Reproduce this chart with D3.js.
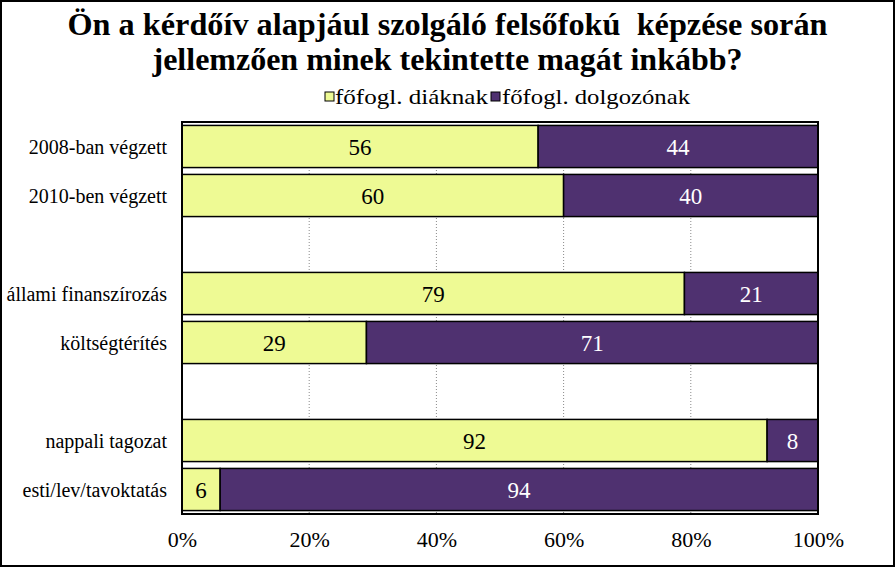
<!DOCTYPE html>
<html>
<head>
<meta charset="utf-8">
<script src="https://cdn.jsdelivr.net/npm/d3@7"></script>
<style>
  html, body { margin: 0; padding: 0; background: #fff; }
  svg { display: block; }
</style>
</head>
<body>
<svg id="chart" width="895" height="567"></svg>
<script>
// ---- data ----
const titleLines = ["Ön a kérdőív alapjául szolgáló felsőfokú  képzése során", "jellemzően minek tekintette magát inkább?"];
const categories = ["2008-ban végzett", "2010-ben végzett", "", "állami finanszírozás", "költségtérítés", "", "nappali tagozat", "esti/lev/tavoktatás"];
const seriesNames = ["főfogl. diáknak", "főfogl. dolgozónak"];
const diaknak   = [56, 60, null, 79, 29, null, 92, 6];
const dolgozonak = [44, 40, null, 21, 71, null, 8, 94];
const xTicks = [0, 20, 40, 60, 80, 100];
const colors = ["#eefa94", "#4f3170"];

// ---- layout ----
const W = 895, H = 567;
const plot = { left: 182, right: 818, top: 122, bottom: 514 };
const svg = d3.select("#chart");
const serif = "'Liberation Serif', 'Times New Roman', serif";

svg.append("rect").attr("x", 1).attr("y", 1).attr("width", W - 2).attr("height", H - 2)
  .attr("fill", "#fff").attr("stroke", "#000").attr("stroke-width", 2);

// title
const titleWidths = [760, 590];
const titleY = [35, 70];
titleLines.forEach((t, i) => {
  svg.append("text").attr("x", W / 2).attr("y", titleY[i])
    .attr("text-anchor", "middle")
    .attr("font-family", serif).attr("font-weight", "bold").attr("font-size", 32)
    .attr("textLength", titleWidths[i]).attr("lengthAdjust", "spacingAndGlyphs")
    .style("white-space", "pre")
    .text(t);
});

// legend
const legendItems = [
  { sx: 325, tx: 335, tw: 153 },
  { sx: 491, tx: 502, tw: 188 }
];
seriesNames.forEach((name, i) => {
  const L = legendItems[i];
  svg.append("rect").attr("x", L.sx).attr("y", 92).attr("width", 9).attr("height", 9)
    .attr("fill", colors[i]).attr("stroke", "#000").attr("stroke-width", 1);
  svg.append("text").attr("x", L.tx).attr("y", 104)
    .attr("font-family", serif).attr("font-size", 22)
    .attr("textLength", L.tw).attr("lengthAdjust", "spacingAndGlyphs")
    .text(name);
});

// scales
const x = d3.scaleLinear().domain([0, 100]).range([plot.left, plot.right]);
const y = d3.scaleBand().domain(d3.range(categories.length))
  .range([plot.top, plot.bottom]).paddingInner(0.14).paddingOuter(0.07);

// grid
svg.append("g").selectAll("line").data(xTicks.filter(t => t > 0 && t < 100)).join("line")
  .attr("x1", d => x(d)).attr("x2", d => x(d))
  .attr("y1", plot.top).attr("y2", plot.bottom)
  .attr("stroke", "#8a8a8a").attr("stroke-width", 1).attr("stroke-dasharray", "1,2");

// bars
const stackData = categories.map((c, i) => ({ i, a: diaknak[i], b: dolgozonak[i] })).filter(d => d.a != null);
const g = svg.append("g");
stackData.forEach(d => {
  const segs = [
    { x0: 0, x1: d.a, v: d.a, c: colors[0], tc: "#000" },
    { x0: d.a, x1: d.a + d.b, v: d.b, c: colors[1], tc: "#fff" }
  ];
  segs.forEach(s => {
    g.append("rect").attr("x", x(s.x0)).attr("y", y(d.i))
      .attr("width", x(s.x1) - x(s.x0)).attr("height", y.bandwidth())
      .attr("fill", s.c).attr("stroke", "#000").attr("stroke-width", 1.5);
    g.append("text").attr("x", (x(s.x0) + x(s.x1)) / 2).attr("y", y(d.i) + y.bandwidth() / 2 + 8)
      .attr("text-anchor", "middle").attr("font-family", serif).attr("font-size", 23)
      .attr("fill", s.tc).text(s.v);
  });
});

// plot frame
svg.append("rect").attr("x", plot.left).attr("y", plot.top)
  .attr("width", plot.right - plot.left).attr("height", plot.bottom - plot.top)
  .attr("fill", "none").attr("stroke", "#000").attr("stroke-width", 2);

// y labels
svg.append("g").selectAll("text").data(categories.map((c, i) => ({ c, i })).filter(d => d.c)).join("text")
  .attr("x", 167).attr("y", d => y(d.i) + y.bandwidth() / 2 + 7)
  .attr("text-anchor", "end").attr("font-family", serif).attr("font-size", 20)
  .text(d => d.c);

// x axis
const xAxis = d3.axisBottom(x).tickValues(xTicks).tickFormat(d => d + "%").tickSize(0).tickPadding(0);
const ax = svg.append("g").attr("transform", `translate(0,${plot.bottom})`).call(xAxis);
ax.select(".domain").remove();
ax.selectAll("text").attr("font-family", serif).attr("font-size", 22).attr("fill", "#000")
  .attr("dy", 0).attr("y", 33);
</script>
</body>
</html>
